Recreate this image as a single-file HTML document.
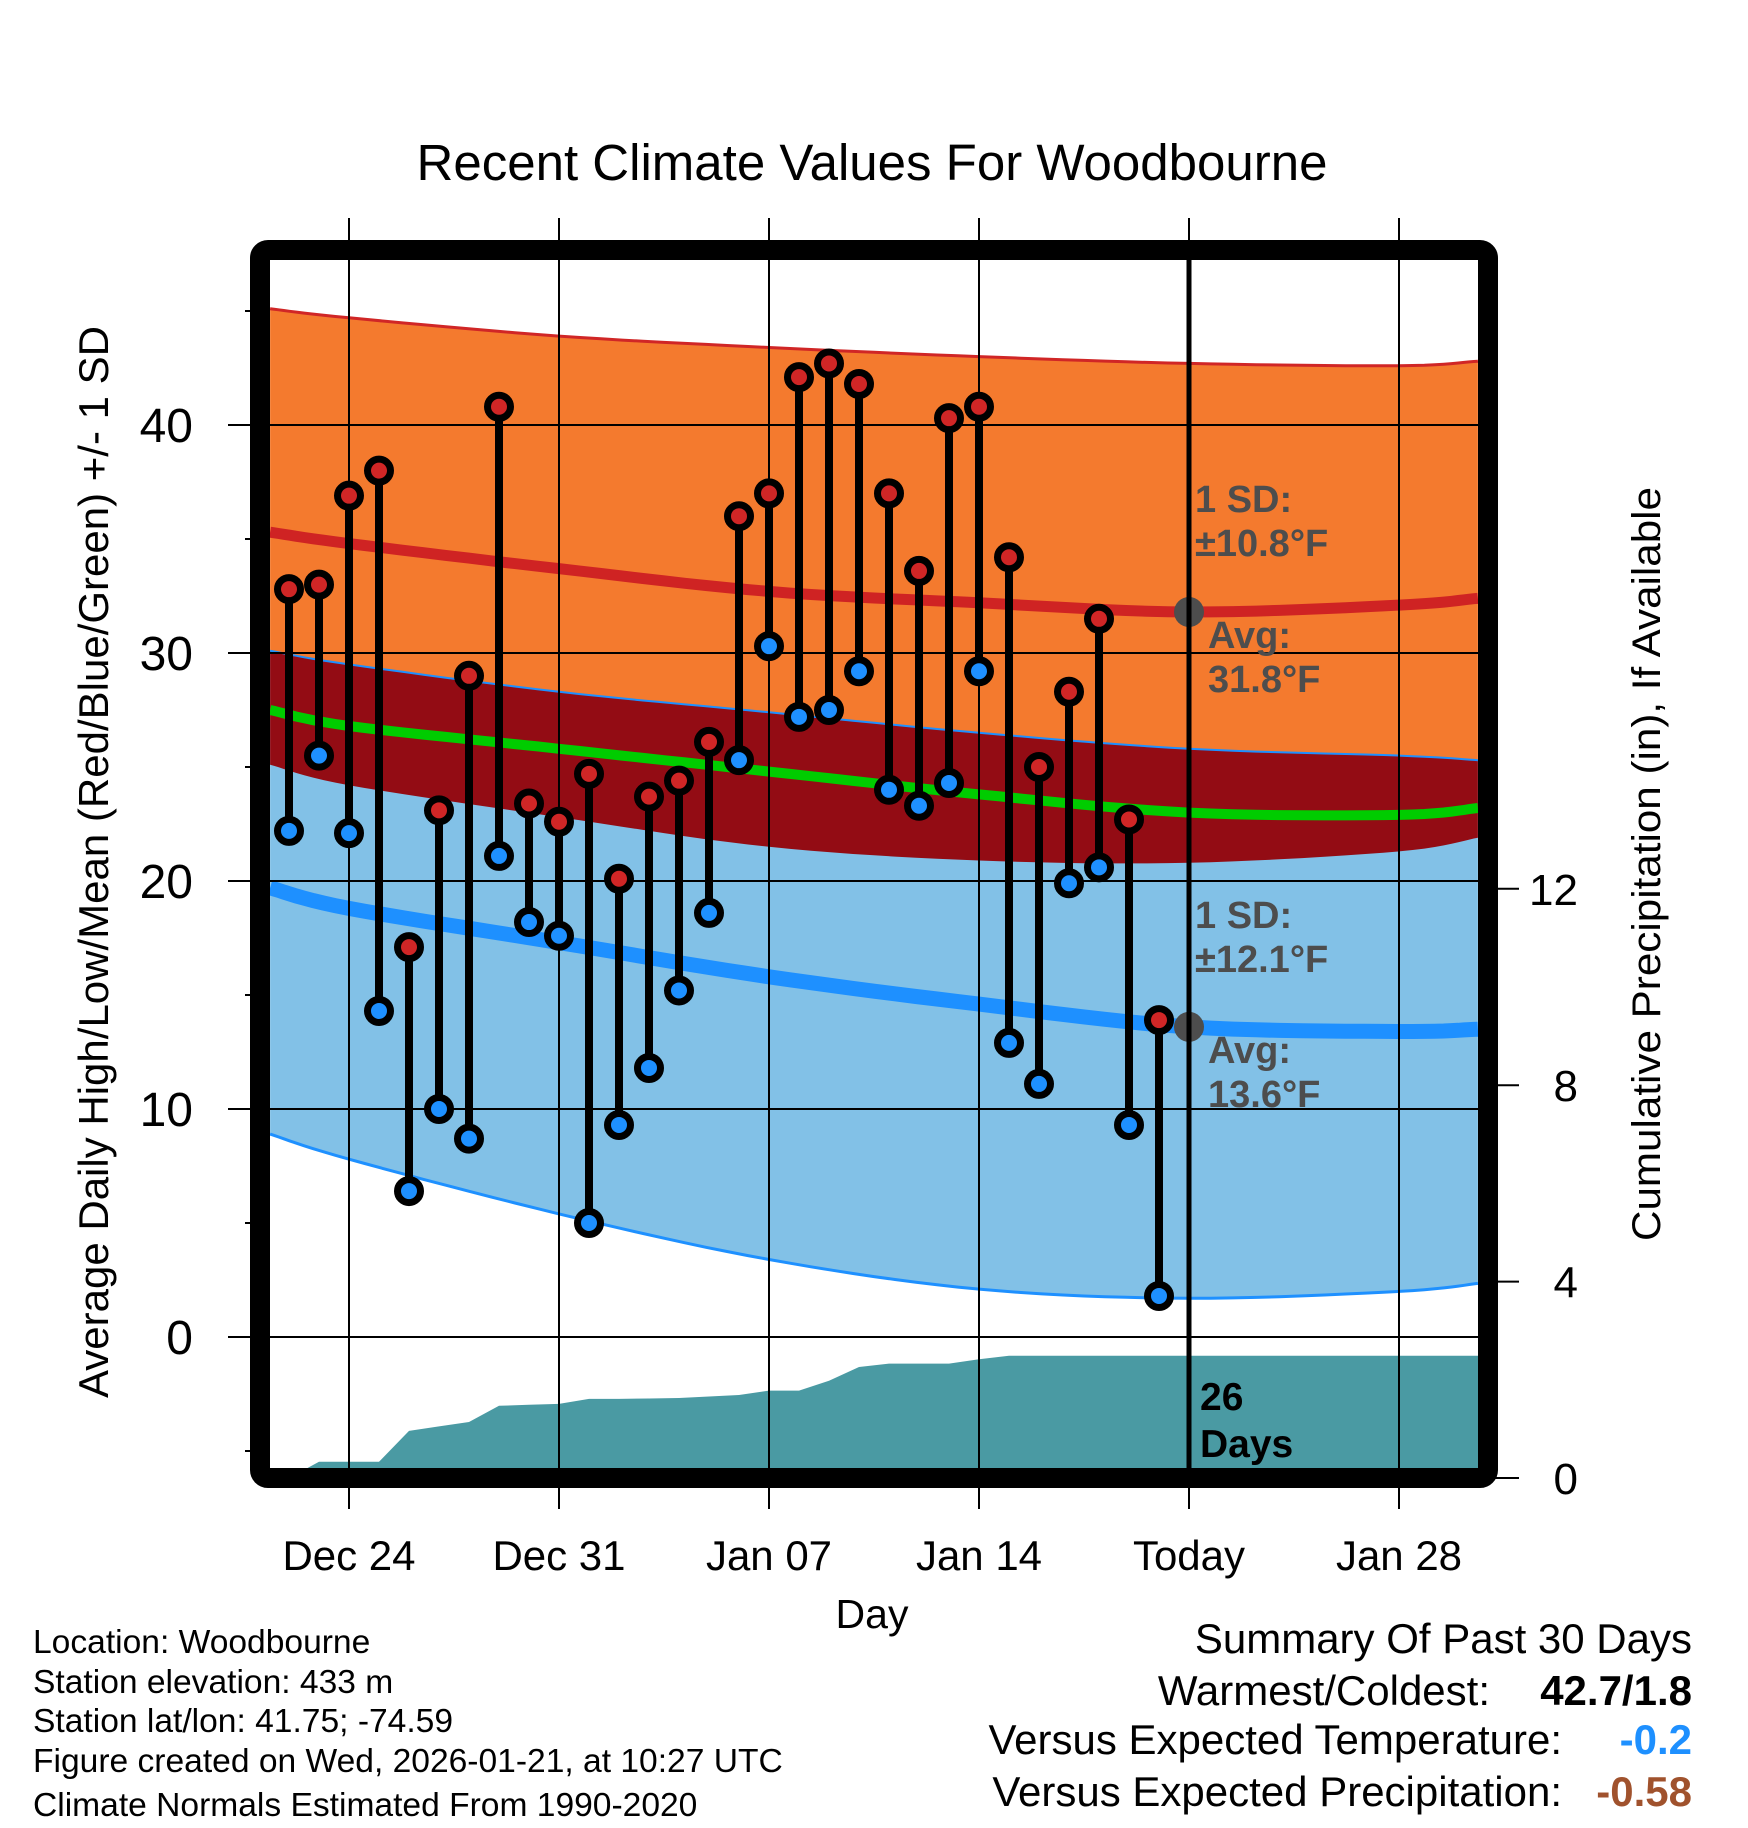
<!DOCTYPE html>
<html><head><meta charset="utf-8"><title>Recent Climate Values For Woodbourne</title>
<style>html,body{margin:0;padding:0;background:#fff}svg{display:block;font-family:"Liberation Sans",Arial,sans-serif}</style>
</head><body>
<svg id="chart" width="1748" height="1828" viewBox="0 0 1748 1828" xmlns="http://www.w3.org/2000/svg">
<defs><clipPath id="plotclip"><rect x="270" y="260" width="1208" height="1208"/></clipPath></defs>
<text x="872" y="180" font-size="51" text-anchor="middle">Recent Climate Values For Woodbourne</text>
<g id="fills" clip-path="url(#plotclip)"></g>
<g id="grid"></g>
<g id="marks"></g>
<g id="axes"></g>
<rect x="260" y="250" width="1228" height="1228" rx="8" fill="none" stroke="#000" stroke-width="20"/>
<text transform="translate(108,862) rotate(-90)" font-size="42" text-anchor="middle" textLength="1072" lengthAdjust="spacingAndGlyphs">Average Daily High/Low/Mean (Red/Blue/Green) +/- 1 SD</text>
<text transform="translate(1660,864) rotate(-90)" font-size="40" text-anchor="middle" textLength="754" lengthAdjust="spacingAndGlyphs">Cumulative Precipitation (in), If Available</text>
<text x="872" y="1628" font-size="41" text-anchor="middle">Day</text>
<g font-size="33.6">
<text x="33" y="1653">Location: Woodbourne</text>
<text x="33" y="1693">Station elevation: 433 m</text>
<text x="33" y="1732">Station lat/lon: 41.75; -74.59</text>
<text x="33" y="1772">Figure created on Wed, 2026-01-21, at 10:27 UTC</text>
<text x="33" y="1816">Climate Normals Estimated From 1990-2020</text>
</g>
<g font-size="42" text-anchor="end">
<text x="1692" y="1653">Summary Of Past 30 Days</text>
<text x="1490" y="1705">Warmest/Coldest:</text>
<text x="1692" y="1705" font-weight="bold">42.7/1.8</text>
<text x="1562" y="1754">Versus Expected Temperature:</text>
<text x="1692" y="1754" font-weight="bold" fill="#1e90ff">-0.2</text>
<text x="1562" y="1806">Versus Expected Precipitation:</text>
<text x="1692" y="1806" font-weight="bold" fill="#a0522d">-0.58</text>
</g>
</svg>
<script>
// days offset from Dec 21
const normDays = [0.37, 3, 10, 17, 24, 31, 38, 40.63];
const normHighPlus = [45.1, 44.7, 43.9, 43.4, 43.0, 42.7, 42.6, 42.8];
const normHigh = [35.3, 34.8, 33.7, 32.7, 32.2, 31.8, 32.1, 32.4];
const normHighMinus = [25.1, 24.2, 22.8, 21.5, 20.9, 20.8, 21.3, 21.9];
const normMean = [27.5, 26.8, 25.8, 24.8, 23.8, 23.0, 22.9, 23.2];
const normLowPlus = [30.1, 29.5, 28.3, 27.4, 26.5, 25.8, 25.5, 25.3];
const normLow = [19.7, 18.8, 17.3, 15.8, 14.6, 13.6, 13.4, 13.5];
const normLowMinus = [8.9, 7.8, 5.4, 3.4, 2.1, 1.7, 2.0, 2.35];
// observed days Dec 22 .. Jan 20 (offset 1..30)
const highs = [32.8,33.0,36.9,38.0,17.1,23.1,29.0,40.8,23.4,22.6,24.7,20.1,23.7,24.4,26.1,36.0,37.0,42.1,42.7,41.8,37.0,33.6,40.3,40.8,34.2,25.0,28.3,31.5,22.7,13.9];
const lows = [22.2,25.5,22.1,14.3,6.4,10.0,8.7,21.1,18.2,17.6,5.0,9.3,11.8,15.2,18.6,25.3,30.3,27.2,27.5,29.2,24.0,23.3,24.3,29.2,12.9,11.1,19.9,20.6,9.3,1.8];
const precip = [0,0.33,0.33,0.33,0.96,1.05,1.14,1.47,1.49,1.51,1.61,1.61,1.62,1.63,1.66,1.69,1.78,1.78,1.98,2.26,2.33,2.33,2.33,2.42,2.49,2.49,2.49,2.49,2.49,2.49];
const xTickDays = [3, 10, 17, 24, 31, 38];
const xTickLabels = ["Dec 24","Dec 31","Jan 07","Jan 14","Today","Jan 28"];
const yTicks = [0,10,20,30,40];
const y2Ticks = [0,4,8,12];
const todayDay = 31;

const NS='http://www.w3.org/2000/svg';
const X = d => 259 + 30*d;
const Y = t => 1337 - 22.8*t;
const YP = p => 1478 - 49.1*p;
function mk(tag, attrs, parent){const e=document.createElementNS(NS,tag);for(const k in attrs)e.setAttribute(k,attrs[k]);parent.appendChild(e);return e;}
const fills=document.getElementById('fills'),grid=document.getElementById('grid'),marks=document.getElementById('marks'),axes=document.getElementById('axes');
// smooth (Catmull-Rom) point list through the normal samples
function pts(arr){const P=normDays.map((d,i)=>[X(d),Y(arr[i])]);const out=[];
for(let i=0;i<P.length-1;i++){const p0=P[Math.max(0,i-1)],p1=P[i],p2=P[i+1],p3=P[Math.min(P.length-1,i+2)];
for(let s=0;s<10;s++){const t=s/10,t2=t*t,t3=t2*t;
const f=(a,b,c,d)=>0.5*((2*b)+(-a+c)*t+(2*a-5*b+4*c-d)*t2+(-a+3*b-3*c+d)*t3);
out.push([f(p0[0],p1[0],p2[0],p3[0]),f(p0[1],p1[1],p2[1],p3[1])]);}}
out.push(P[P.length-1]);return out;}
const fmt=a=>a.map(p=>p[0].toFixed(1)+','+p[1].toFixed(1)).join(' L');
function band(top,bot,color,name){const p=mk('path',{d:'M'+fmt(pts(top))+' L'+fmt(pts(bot).reverse())+' Z',fill:color},fills);

}
band(normHighPlus,normLowPlus,'#f47a2e','high-sd-band');
band(normLowPlus,normLowMinus,'#82c1e7','low-sd-band');
band(normHighMinus,normLowPlus,'#930c14','overlap-band');
function curve(arr,color,w,name){const p=mk('path',{d:'M'+fmt(pts(arr)),fill:'none',stroke:color,'stroke-width':w},fills);

}
curve(normHighPlus,'#d02626',3,'high-plus-sd-line');
curve(normLowPlus,'#1e90ff',2,'low-plus-sd-line');
curve(normLowMinus,'#1e90ff',3,'low-minus-sd-line');
curve(normMean,'#00cc00',10,'mean-line');
curve(normHigh,'#cf2323',11,'normal-high-line');
curve(normLow,'#1e90ff',15,'normal-low-line');
// precip
let pd='M'+X(1)+','+YP(0);
precip.forEach((p,i)=>{pd+=' L'+X(i+1)+','+YP(p).toFixed(1);});
pd+=' L1478,'+YP(precip[precip.length-1]).toFixed(1)+' L1478,1480 L'+X(1)+',1480 Z';
const pa=mk('path',{d:pd,fill:'#4a9aa3'},fills);


// grid
yTicks.forEach(t=>{const l=mk('line',{x1:228,x2:1478,y1:Y(t),y2:Y(t),stroke:'#000','stroke-width':2},grid);


const tx=mk('text',{x:193,y:Y(t)+17,'font-size':48,'text-anchor':'end'},axes);tx.textContent=t;

});
[-5,5,15,25,35,45].forEach(t=>{const l=mk('line',{x1:245,x2:262,y1:Y(t),y2:Y(t),stroke:'#000','stroke-width':2},grid);

});
xTickDays.forEach((d,i)=>{const today=d===todayDay;
const g=mk('line',{x1:X(d),x2:X(d),y1:218,y2:1509,stroke:'#000','stroke-width':2},grid);


if(today){const l=mk('line',{x1:X(d),x2:X(d),y1:255,y2:1480,stroke:'#000','stroke-width':5},axes);

}
const tx=mk('text',{x:X(d),y:1570,'font-size':42,'text-anchor':'middle'},axes);tx.textContent=xTickLabels[i];

});
y2Ticks.forEach(p=>{const l=mk('line',{x1:1490,x2:1519,y1:YP(p),y2:YP(p),stroke:'#000','stroke-width':2},axes);


const tx=mk('text',{x:1578,y:YP(p)+16,'font-size':44,'text-anchor':'end'},axes);tx.textContent=p;

});
// stems & markers
highs.forEach((h,i)=>{const x=X(i+1);
const s=mk('line',{x1:x,x2:x,y1:Y(h),y2:Y(lows[i]),stroke:'#000','stroke-width':8},marks);

});
highs.forEach((h,i)=>{const x=X(i+1);
const c1=mk('circle',{cx:x,cy:Y(h),r:11.5,fill:'#d02626',stroke:'#000','stroke-width':7},marks);


const c2=mk('circle',{cx:x,cy:Y(lows[i]),r:11.5,fill:'#1e90ff',stroke:'#000','stroke-width':7},marks);

});
// today avg dots & labels
const ti=normDays.indexOf(todayDay);
[[normHigh[ti],'avg-high-dot'],[normLow[ti],'avg-low-dot']].forEach(a=>{const c=mk('circle',{cx:X(todayDay),cy:Y(a[0]),r:15,fill:'#4d4d4d'},marks);

});
const labs=[['1 SD:',1195,512],['\u00B110.8\u00B0F',1195,556],['Avg:',1208,648],['31.8\u00B0F',1208,692],['1 SD:',1195,928],['\u00B112.1\u00B0F',1195,972],['Avg:',1208,1063],['13.6\u00B0F',1208,1107]];
labs.forEach(a=>{const t=mk('text',{x:a[1],y:a[2],'font-size':38,'font-weight':'bold',fill:'#4d4d4d'},marks);t.textContent=a[0];

});
[['26',1410],['Days',1457]].forEach(a=>{const t=mk('text',{x:1200,y:a[1],'font-size':39,'font-weight':'bold',fill:'#000'},marks);t.textContent=a[0];

});
</script>
</body></html>
